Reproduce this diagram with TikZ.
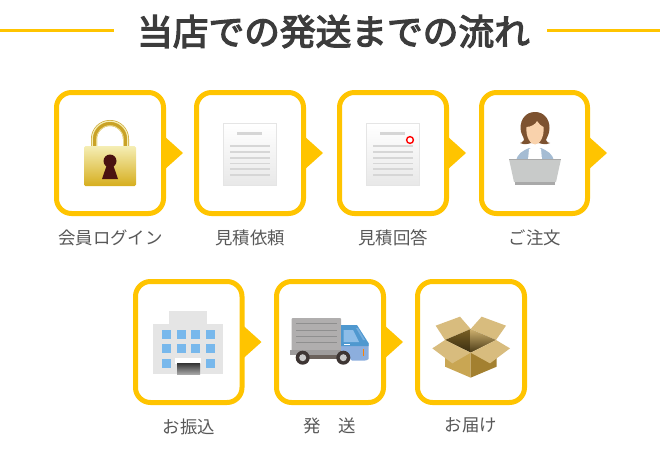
\documentclass[tikz,border=0pt]{standalone}
\usepackage{fontspec}
\setmainfont{Noto Sans CJK JP}
\newfontfamily\titlefont[FakeBold=3.5]{Noto Sans CJK JP}
\definecolor{flowyellow}{HTML}{FFC400}
\definecolor{titlegray}{HTML}{3C3C3C}
\definecolor{labelgray}{HTML}{585858}
\definecolor{linegray}{HTML}{D6D6D6}
\definecolor{bldg}{HTML}{E5E5E5}
\definecolor{winblue}{HTML}{78B8EC}
\definecolor{flap}{HTML}{D8BC7E}
\definecolor{lockrim}{HTML}{C9A227}
\definecolor{locktop}{HTML}{F5EEB5}
\definecolor{lockmid}{HTML}{EAD871}
\definecolor{lockbot}{HTML}{D6AE1E}
\definecolor{keyhole}{HTML}{4A1210}
\definecolor{hair}{HTML}{7D5230}
\definecolor{face}{HTML}{F9D2AC}
\definecolor{jacket}{HTML}{A5BCD3}
\definecolor{laptop}{HTML}{C8CAC9}
\definecolor{laptopdk}{HTML}{A9A9A9}
\definecolor{cargo}{HTML}{B0AEAE}
\definecolor{cargoline}{HTML}{8F8F8F}
\definecolor{bumper}{HTML}{9E9C9C}
\definecolor{chassis}{HTML}{6B625C}
\definecolor{cabtop}{HTML}{4F98CF}
\definecolor{cablow}{HTML}{8CAEDD}
\definecolor{cabwin}{HTML}{8DBDE8}
\definecolor{tyre}{HTML}{3D3533}
\definecolor{hub}{HTML}{C9C9C9}
\definecolor{boxl}{HTML}{C9A653}
\definecolor{boxr}{HTML}{A38030}
\newcommand{\flowtip}[1]{\fill[flowyellow] ([shift={(0,-17.5)}]#1.east) -- ([shift={(19.5,0)}]#1.east) -- ([shift={(0,17.5)}]#1.east) -- cycle;}
\newcommand{\docicon}[1]{%
  \begin{scope}[shift={(#1,0)}]
    \fill[bldg] (0,123) rectangle (54,186);
    \shade[top color=white,bottom color=black!9] (1.2,124.2) rectangle (52.8,184.8);
    \fill[linegray] (14,132) rectangle (39,135);
    \foreach \yy in {146,152,158,163.5,169,175}{\fill[linegray] (7,\yy-.7) rectangle (47,\yy+.7);}
  \end{scope}}
\tikzset{
  x=1pt,y=-1pt,
  stepbox/.style={draw=flowyellow,line width=5pt,rounded corners=15pt,minimum height=121pt,outer sep=0pt,inner sep=0pt},
  steplabel/.style={text=labelgray,font=\fontsize{17.4}{17.4}\selectfont,inner sep=0pt,anchor=center},
  headline/.style={draw=flowyellow,line width=3pt},
}
\begin{document}
\begin{tikzpicture}
\useasboundingbox (0,0) rectangle (660,455);
% heading
\node[text=titlegray,font=\fontsize{35.7}{36}\selectfont\titlefont,inner sep=0pt] (title) at (333.5,31.5) {当店での発送までの流れ};
\coordinate (hl) at (0,30.5);
\coordinate (hle) at (114,30.5);
\coordinate (hr) at (660,30.5);
\coordinate (hre) at (547,30.5);
\draw[headline] (hl) -- (hle);
\draw[headline] (hr) -- (hre);
% boxes
\node[stepbox,minimum width=107pt] (b1) at (110,153) {};
\node[stepbox,minimum width=107pt] (b2) at (250,153) {};
\node[stepbox,minimum width=107pt] (b3) at (393,153) {};
\node[stepbox,minimum width=106pt] (b4) at (534.5,153) {};
\node[stepbox,minimum width=106.5pt] (b5) at (188.75,342) {};
\node[stepbox,minimum width=107pt] (b6) at (330,342) {};
\node[stepbox,minimum width=107pt] (b7) at (471,342) {};
\flowtip{b1}\flowtip{b2}\flowtip{b3}\flowtip{b4}\flowtip{b5}\flowtip{b6}
% labels
\node[steplabel] (l1) at (110.5,238) {会員ログイン};
\node[steplabel] (l2) at (250,238) {見積依頼};
\node[steplabel] (l3) at (393,238) {見積回答};
\node[steplabel] (l4) at (535,238) {ご注文};
\node[steplabel] (l5) at (189,427) {お振込};
\node[steplabel] (l6) at (330,426) {発　送};
\node[steplabel] (l7) at (471,425.5) {お届け};
% lock
\draw[line width=6pt,draw=lockrim] (94,148) -- (94,139) arc[start angle=180,end angle=360,radius=16] -- (126,148);
\draw[line width=1.2pt,draw=locktop] (92.2,147) -- (92.2,139) arc[start angle=180,end angle=360,radius=17.8] -- (127.8,147);
\draw[line width=.8pt,draw=locktop!70!lockrim] (96.6,147) -- (96.6,139) arc[start angle=180,end angle=360,radius=13.4] -- (123.4,147);
\shade[top color=locktop,middle color=lockmid,bottom color=lockbot,rounded corners=1.5pt] (84,146) rectangle (136,186);
\fill[keyhole] (110,161) circle[radius=6.5];
\fill[keyhole] (107.5,163) -- (112.5,163) -- (118,179) -- (102,179) -- cycle;
% documents
\docicon{223}
\docicon{366}
\draw[draw=red,fill=white,line width=1.4pt] (410,140) circle[radius=3.4];
% person
\fill[jacket] (516,162) .. controls (517,153) and (523,151) .. (529,148) -- (541,148) .. controls (547,151) and (553,153) .. (554,162) -- (555,184) -- (515,184) -- cycle;
\fill[white] (529,149) -- (532,147.5) -- (538,147.5) -- (541,149) -- (542,160) -- (528,160) -- cycle;
\fill[hair] (535,112) .. controls (526,112) and (520.5,119) .. (520.5,128) .. controls (520.5,134) and (524,137) .. (524,140) .. controls (523,142) and (521,143) .. (520,143) .. controls (524,145) and (528,144) .. (531,143) -- (539,143) .. controls (542,144) and (546,145) .. (550,143) .. controls (548,143) and (547,142) .. (546,140) .. controls (547,137) and (549.5,134) .. (549.5,128) .. controls (549.5,119) and (544,112) .. (535,112) -- cycle;
\fill[face] (526.5,127) .. controls (531,127) and (536,124) .. (537,121) .. controls (539,124) and (541,126) .. (543.5,127) .. controls (544.5,136) and (540,144.5) .. (535,144.5) .. controls (530,144.5) and (525.5,136) .. (526.5,127) -- cycle;
\fill[laptop] (509,159) -- (561,159) -- (556,182) -- (514,182) -- cycle;
\fill[laptopdk] (515,182) rectangle (555,185);
\fill[laptopdk] (509,159) rectangle (561,160);
% building
\fill[bldg] (169,311) rectangle (207,325);
\fill[bldg] (153,324) rectangle (223,374);
\foreach \wx in {162,176.5,191,206}{
  \fill[winblue] (\wx,330) rectangle ++(9,9);
  \fill[winblue] (\wx,344) rectangle ++(9,9);
}
\fill[winblue] (162,359) rectangle ++(9,9);
\fill[winblue] (206,359) rectangle ++(9,9);
\fill[white] (175,358) rectangle (201,364);
\shade[top color=black!80,bottom color=black!35] (177,363) rectangle (200,374);
% truck
\fill[cargo,rounded corners=1pt] (291.5,318) rectangle (341,352);
\foreach \ty in {323,330,336,342}{\fill[cargoline] (296,\ty-.5) rectangle (337,\ty+.5);}
\fill[bumper] (290,350) rectangle (342,355);
\fill[chassis] (296,355) rectangle (352,359);
\fill[cablow] (341,343) -- (368.5,343) -- (368.5,359) .. controls (368,360) and (366,360.5) .. (365,360.5) -- (352,360.5) -- (341,352) -- cycle;
\fill[cabtop] (341,325) -- (357,325) -- (368.5,343) -- (368.5,346) -- (341,346) -- cycle;
\fill[cabwin] (343.5,330) -- (353,330) -- (359,342) -- (343.5,342) -- cycle;
\fill[cabwin!60!cabtop] (356,328) -- (358,328) -- (365,340) -- (363,340) -- cycle;
\fill[white] (344,344) rectangle (350,345.3);
\fill[orange] (363,349) rectangle (364.4,356);
\foreach \wc in {302.7,343.3}{
  \fill[tyre] (\wc,357.7) circle[radius=7];
  \fill[hub] (\wc,357.7) circle[radius=3.5];
}
% parcel
\begin{scope}[shift={(425,310)},x=.3333pt,y=-.3333pt]
  \fill[flap] (32,47) -- (105,20) -- (137,57) -- (60,90) -- cycle;
  \fill[flap] (170,20) -- (243,47) -- (213,90) -- (137,57) -- cycle;
  \shade[top color=black!25!boxr,bottom color=black!65!boxr] (60,90) -- (137,57) -- (137,128) -- cycle;
  \shade[top color=flap!80!boxr,bottom color=black!55!boxr] (137,57) -- (213,90) -- (137,128) -- cycle;
  \fill[boxl] (60,130) -- (137,128) -- (137,203) -- (60,170) -- cycle;
  \fill[boxr] (215,130) -- (137,128) -- (137,203) -- (215,170) -- cycle;
  \fill[flap] (60,90) -- (137,128) -- (82,160) -- (22,115) -- cycle;
  \fill[flap] (213,90) -- (255,115) -- (195,160) -- (137,128) -- cycle;
\end{scope}
\end{tikzpicture}
\end{document}
